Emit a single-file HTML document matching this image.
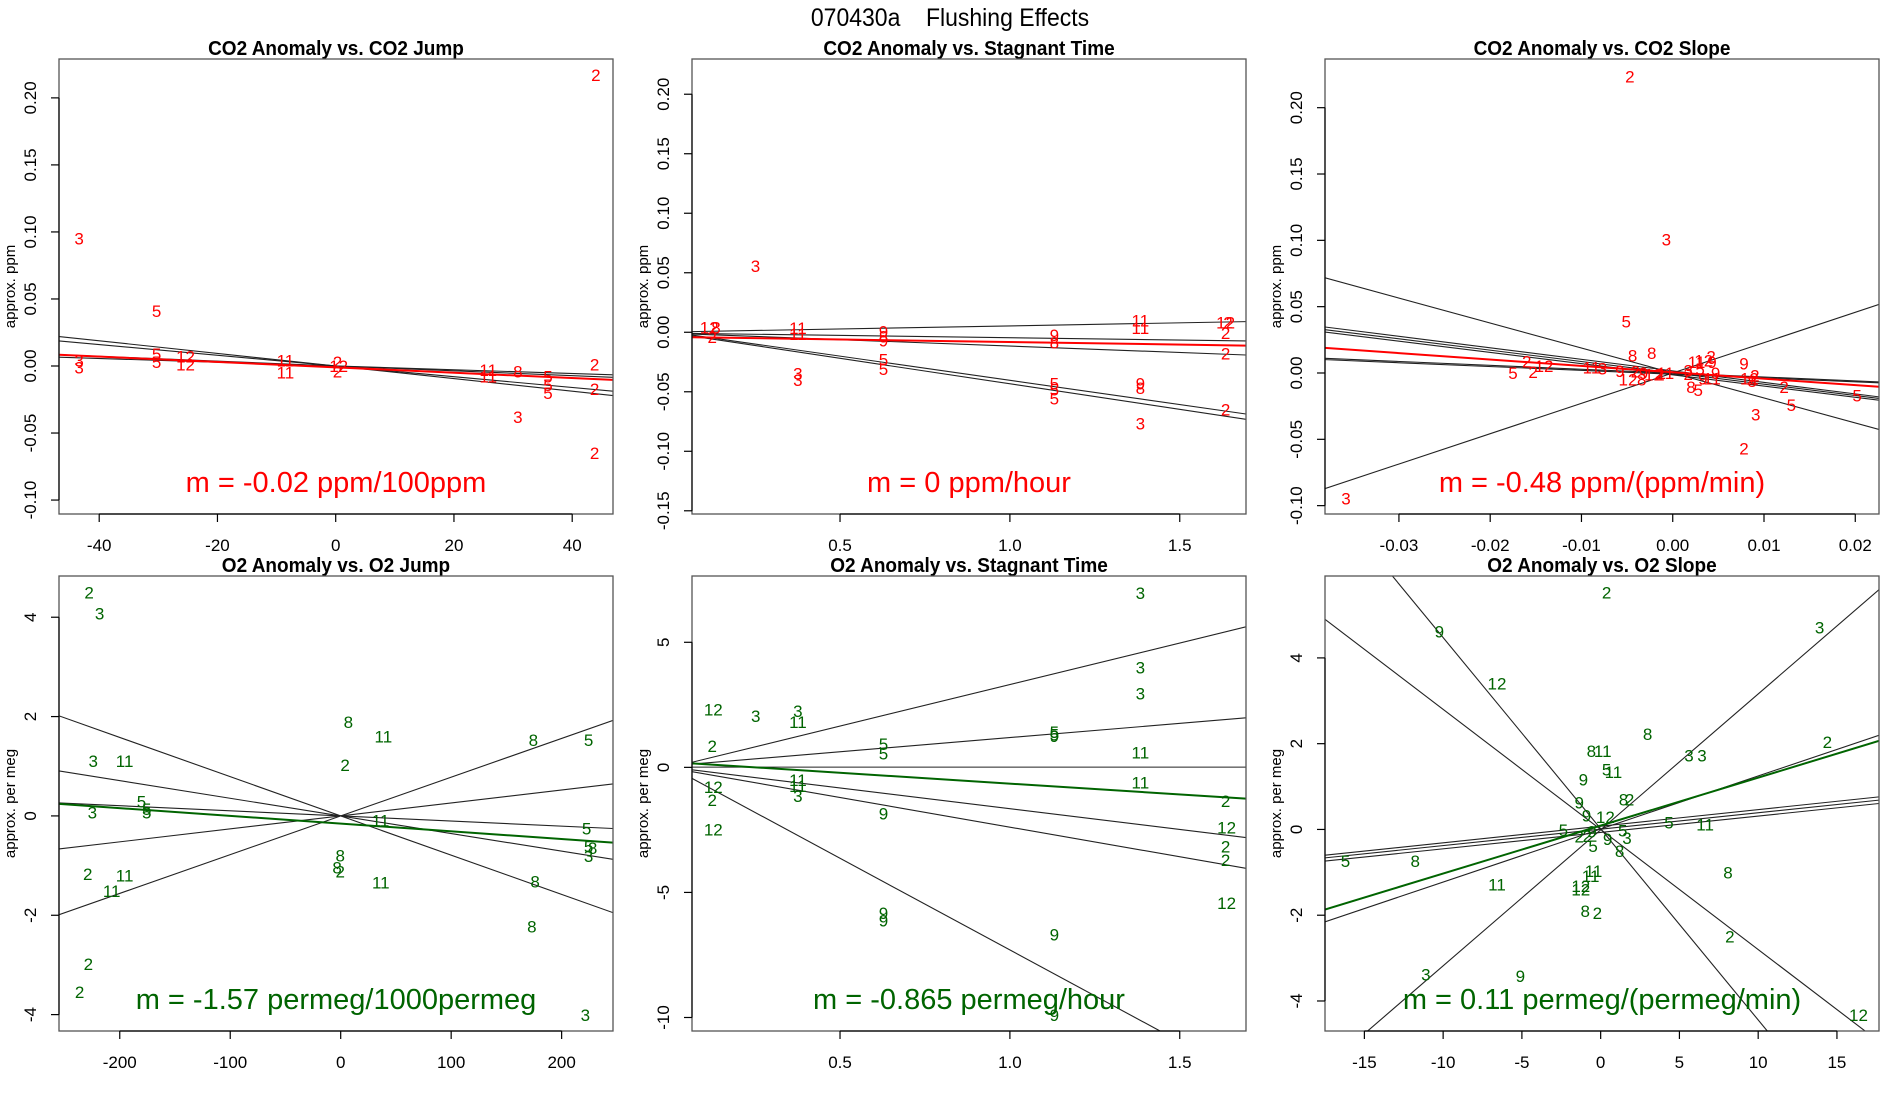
<!DOCTYPE html>
<html><head><meta charset="utf-8"><title>070430a Flushing Effects</title>
<style>
html,body{margin:0;padding:0;background:#fff;width:1900px;height:1100px;overflow:hidden;}
svg{display:block;font-family:"Liberation Sans",Arial,sans-serif;}
</style></head>
<body>
<svg id="fig" width="1900" height="1100" viewBox="0 0 1900 1100" xmlns="http://www.w3.org/2000/svg">
<rect width="1900" height="1100" fill="#fff"/>
<text x="950" y="26" font-size="25" text-anchor="middle" fill="#000" transform="translate(950 0) scale(0.92 1) translate(-950 0)" xml:space="preserve">070430a    Flushing Effects</text>
</svg>
<script>
// ===== Panel 1: CO2 Anomaly vs. CO2 Jump =====
const p1X = [44,-43.4,-30.3,-43.4,-43.4,-30.3,-30.3,-25.4,-25.4,-8.5,-8.5,0.3,0.5,0.3,25.8,25.8,30.8,30.8,35.9,35.9,35.9,43.8,43.8,43.8];
const p1Y = [0.217,0.095,0.041,0.004,-0.001,0.009,0.003,0.007,0.001,0.004,-0.005,0.003,0.0,-0.004,-0.003,-0.008,-0.004,-0.038,-0.008,-0.014,-0.020,0.001,-0.017,-0.065];
const p1Lab = ["2","3","5","3","3","5","5","12","12","11","11","2","12","2","11","11","8","3","5","5","5","2","2","2"];
const p1LineInt = [0,0,0,0];
const p1LineSlope = [-0.00047,-0.0004,-0.00018,-0.00014];
const p1Fit = [-0.001,-0.0002];
const p1XTicks = [-40,-20,0,20,40];
const p1YTicks = [-0.10,-0.05,0.00,0.05,0.10,0.15,0.20];
const p1YTickLabels = ["-0.10","-0.05","0.00","0.05","0.10","0.15","0.20"];

// ===== Panel 2: CO2 Anomaly vs. Stagnant Time =====
const p2X = [0.251,0.115,0.135,0.124,0.376,0.376,0.376,0.376,0.628,0.628,0.628,0.628,0.628,1.131,1.131,1.131,1.131,1.131,1.384,1.384,1.384,1.384,1.384,1.635,1.642,1.635,1.635,1.635];
const p2Y = [0.0557,0.004,0.004,-0.004,0.0037,-0.0013,-0.0345,-0.040,0.0005,-0.0037,-0.007,-0.023,-0.031,-0.0023,-0.0084,-0.043,-0.048,-0.0555,0.0097,0.0034,-0.043,-0.047,-0.0765,0.008,0.008,-0.0007,-0.018,-0.065];
const p2Lab = ["3","12","8","2","11","11","3","3","9","8","9","5","5","9","8","5","5","5","11","11","9","8","3","12","2","2","2","2"];
const p2LineInt = [0.0002,-0.0007,-0.0008,0.0003,-0.0004];
const p2LineSlope = [0.00515,-0.0039,-0.0108,-0.0407,-0.0429];
const p2Fit = [-0.0039,-0.0043];
const p2XTicks = [0.5,1.0,1.5];
const p2XTickLabels = ["0.5","1.0","1.5"];
const p2YTicks = [-0.15,-0.10,-0.05,0.00,0.05,0.10,0.15,0.20];
const p2YTickLabels = ["-0.15","-0.10","-0.05","0.00","0.05","0.10","0.15","0.20"];

// ===== Panel 3: CO2 Anomaly vs. CO2 Slope =====
const p3X = [-0.0047,-0.0007,-0.0051,-0.0044,-0.0023,-0.016,-0.0153,-0.0141,-0.0175,-0.0089,-0.0077,-0.0058,-0.0049,-0.0034,-0.0041,-0.0032,-0.0021,-0.0014,-0.0008,0.0017,0.0026,0.0034,0.0042,0.0043,0.003,0.0047,0.0043,0.0033,0.0028,0.002,0.0017,0.0078,0.0084,0.0087,0.009,0.0122,0.0202,0.013,0.0091,0.0078,-0.0358];
const p3Y = [0.2236,0.1008,0.039,0.0133,0.015,0.0088,0.0008,0.0053,0.0,0.004,0.0035,0.0015,-0.005,-0.005,0.001,0.0,-0.001,-0.001,0.0,0.002,0.0083,0.0095,0.0126,0.0083,0.003,0.0,-0.004,-0.004,-0.013,-0.0107,-0.0008,0.0071,-0.004,-0.006,-0.002,-0.0105,-0.0168,-0.0243,-0.0314,-0.057,-0.0947];
const p3Lab = ["2","3","5","8","8","2","2","12","5","11","3","9","12","8","2","9","12","2","11","3","11","12","2","9","5","9","11","9","5","8","2","9","12","8","2","2","5","5","3","2","3"];
const p3LineInt = [0,0,0.0016,0.0001,-0.0014,-0.0001,-0.0009];
const p3LineSlope = [-1.883,2.288,-0.868,-0.855,-0.847,-0.293,-0.288];
const p3Fit = [0.0005,-0.483];
const p3XTicks = [-0.03,-0.02,-0.01,0.00,0.01,0.02];
const p3XTickLabels = ["-0.03","-0.02","-0.01","0.00","0.01","0.02"];
const p3YTicks = [-0.10,-0.05,0.00,0.05,0.10,0.15,0.20];
const p3YTickLabels = ["-0.10","-0.05","0.00","0.05","0.10","0.15","0.20"];

// ===== Panel 4: O2 Anomaly vs. O2 Jump =====
const p4X = [-227.7,-218.2,-224,-195.6,-224.8,-180.3,-175.6,-175.6,-229,-195.6,-207.3,-228.4,-236.4,6.9,38.6,4.0,36,-0.4,-3.3,-0.4,36.3,174.4,224.4,222.6,224.4,228,224.4,176,173,221.5];
const p4Y = [4.50,4.08,1.11,1.11,0.07,0.29,0.14,0.07,-1.17,-1.20,-1.51,-2.98,-3.54,1.89,1.60,1.03,-0.09,-0.80,-1.04,-1.12,-1.34,1.53,1.53,-0.25,-0.62,-0.65,-0.81,-1.32,-2.23,-4.01];
const p4Lab = ["2","3","3","11","3","5","5","5","2","11","11","2","2","8","11","2","11","8","8","2","11","8","5","5","5","8","3","8","8","3"];
const p4LineInt = [0,0,0,0,0];
const p4LineSlope = [-0.0079,-0.003548,-0.001027,0.00261,0.0078];
const p4Fit = [-0.154,-0.001553];
const p4XTicks = [-200,-100,0,100,200];
const p4YTicks = [-4,-2,0,2,4];

// ===== Panel 5: O2 Anomaly vs. Stagnant Time =====
const p5X = [1.384,1.384,1.384,0.127,0.252,0.376,0.376,0.124,0.628,0.628,1.131,1.131,1.131,1.384,1.384,0.376,0.376,0.376,0.127,0.124,0.127,0.628,0.628,0.628,1.131,1.131,1.635,1.638,1.635,1.635,1.638];
const p5Y = [6.98,3.99,2.96,2.32,2.06,2.25,1.82,0.85,0.93,0.56,1.42,1.32,1.25,0.60,-0.61,-0.51,-0.75,-1.15,-0.79,-1.31,-2.48,-1.84,-5.83,-6.13,-6.68,-9.91,-1.35,-2.40,-3.17,-3.70,-5.43];
const p5Lab = ["3","3","3","12","3","3","11","2","5","5","5","5","9","11","11","11","11","3","12","2","12","9","9","9","9","9","2","12","2","2","12"];
const p5LineInt = [-0.01,0.057,0.009,0.007,-0.02,0.03];
const p5LineSlope = [3.32,1.134,0,-1.66,-2.37,-7.33];
const p5Fit = [0.216,-0.866];
const p5XTicks = [0.5,1.0,1.5];
const p5XTickLabels = ["0.5","1.0","1.5"];
const p5YTicks = [-10,-5,0,5];

// ===== Panel 6: O2 Anomaly vs. O2 Slope =====
const p6X = [0.38,-10.24,13.9,-6.58,2.98,14.39,-0.59,0.13,5.61,6.43,0.38,0.81,-1.10,-1.36,1.45,1.84,-0.90,0.3,-2.37,4.34,6.63,-1.36,-0.85,-0.55,1.4,1.67,0.44,-0.48,1.2,-16.2,-11.77,-6.58,-1.26,-1.26,-0.45,-0.64,8.08,-0.98,-0.21,8.2,-11.1,-5.10,16.37];
const p6Y = [5.52,4.62,4.71,3.40,2.22,2.04,1.83,1.83,1.73,1.73,1.40,1.34,1.17,0.63,0.70,0.70,0.32,0.29,-0.01,0.16,0.12,-0.17,-0.15,-0.05,-0.02,-0.20,-0.22,-0.39,-0.50,-0.73,-0.74,-1.28,-1.32,-1.40,-0.97,-1.09,-1.00,-1.90,-1.95,-2.50,-3.38,-3.42,-4.33];
const p6Lab = ["2","9","3","12","8","2","8","11","3","3","5","11","9","9","8","2","9","12","5","5","11","2","2","9","5","3","9","5","8","5","8","11","12","12","11","11","8","8","2","2","3","9","12"];
const p6LineInt = [0.016,0,-0.01,0.01,0.076,0.007,-0.07];
const p6LineSlope = [-0.4458,-0.280,0.317,0.1237,0.0387,0.0383,0.0382];
const p6Fit = [0.09,0.1118];
const p6XTicks = [-15,-10,-5,0,5,10,15];
const p6YTicks = [-4,-2,0,2,4];

const NS = "http://www.w3.org/2000/svg";
const svg = document.getElementById("fig");

function mk(tag, attrs, parent) {
  const e = document.createElementNS(NS, tag);
  for (const k in attrs) e.setAttribute(k, attrs[k]);
  (parent || svg).appendChild(e);
  return e;
}

function panel(cfg) {
  const g = mk("g", {});
  
  
  const L = cfg.left, T = cfg.top, W = 554, H = 455, R = L + W, B = T + H;
  const sx = v => L + (v - cfg.xmin) / (cfg.xmax - cfg.xmin) * W;
  const sy = v => B - (v - cfg.ymin) / (cfg.ymax - cfg.ymin) * H;

  const title = mk("text", {x: L + W / 2, y: T - 4, "font-size": 20, "font-weight": "bold", "text-anchor": "middle", fill: "#000",
    transform: `translate(${L + W / 2} 0) scale(0.95 1) translate(${-(L + W / 2)} 0)`}, g);
  title.textContent = cfg.title;
  
  

  const cid = "clip-" + cfg.name;
  const cp = mk("clipPath", {id: cid}, g);
  mk("rect", {x: L, y: T, width: W, height: H}, cp);
  const plot = mk("g", {"clip-path": `url(#${cid})`}, g);

  for (let i = 0; i < cfg.lInt.length; i++) {
    const a = cfg.lInt[i], b = cfg.lSlope[i];
    const ln = mk("line", {x1: sx(cfg.xmin), y1: sy(a + b * cfg.xmin), x2: sx(cfg.xmax), y2: sy(a + b * cfg.xmax), stroke: "#222", "stroke-width": 1.1}, plot);
    
    
  }
  const fa = cfg.fit[0], fb = cfg.fit[1];
  const fl = mk("line", {x1: sx(cfg.xmin), y1: sy(fa + fb * cfg.xmin), x2: sx(cfg.xmax), y2: sy(fa + fb * cfg.xmax), stroke: cfg.color, "stroke-width": 2}, plot);
  
  

  for (let i = 0; i < cfg.px.length; i++) {
    const t = mk("text", {x: sx(cfg.px[i]), y: sy(cfg.py[i]) + 6, "font-size": 17, "text-anchor": "middle", fill: cfg.color}, plot);
    t.textContent = cfg.lab[i];
    
    
  }

  const box = mk("rect", {x: L, y: T, width: W, height: H, fill: "none", stroke: "#555", "stroke-width": 1.3}, g);
  
  

  const xt = cfg.xTicks;
  const xa = mk("line", {x1: sx(xt[0]), y1: B, x2: sx(xt[xt.length - 1]), y2: B, stroke: "#000", "stroke-width": 1.2}, g);
  
  
  for (let i = 0; i < xt.length; i++) {
    mk("line", {x1: sx(xt[i]), y1: B, x2: sx(xt[i]), y2: B + 8, stroke: "#000", "stroke-width": 1.2}, g);
    const lt = mk("text", {x: sx(xt[i]), y: B + 37, "font-size": 17, "text-anchor": "middle", fill: "#000"}, g);
    lt.textContent = cfg.xLabels ? cfg.xLabels[i] : String(xt[i]);
    
    
  }
  const yt = cfg.yTicks;
  const ya = mk("line", {x1: L, y1: sy(yt[0]), x2: L, y2: sy(yt[yt.length - 1]), stroke: "#000", "stroke-width": 1.2}, g);
  
  
  for (let i = 0; i < yt.length; i++) {
    mk("line", {x1: L - 8, y1: sy(yt[i]), x2: L, y2: sy(yt[i]), stroke: "#000", "stroke-width": 1.2}, g);
    const yx = L - 23, yy = sy(yt[i]);
    const lt = mk("text", {x: yx, y: yy, "font-size": 17, "text-anchor": "middle", fill: "#000", transform: `rotate(-90 ${yx} ${yy})`}, g);
    lt.textContent = cfg.yLabels ? cfg.yLabels[i] : String(yt[i]);
    
    
  }
  const ax = L - 44, ay = T + H / 2;
  const ylab = mk("text", {x: ax, y: ay, "font-size": 15, "text-anchor": "middle", fill: "#000", transform: `rotate(-90 ${ax} ${ay})`}, g);
  ylab.textContent = cfg.yTitle;
  
  

  const mx = L + W / 2, my = B - 22;
  const ann = mk("text", {x: mx, y: my, "font-size": 29, "text-anchor": "middle", fill: cfg.color}, g);
  ann.textContent = cfg.ann;
  
  
}

const RED = "#ff0000", GREEN = "#006400";
panel({name: "panel-co2-jump", title: "CO2 Anomaly vs. CO2 Jump", left: 59, top: 59, xmin: -46.8, xmax: 46.9, ymin: -0.1104, ymax: 0.229,
  px: p1X, py: p1Y, lab: p1Lab, lInt: p1LineInt, lSlope: p1LineSlope, fit: p1Fit, color: RED,
  xTicks: p1XTicks, yTicks: p1YTicks, yLabels: p1YTickLabels, yTitle: "approx. ppm", ann: "m = -0.02 ppm/100ppm"});
panel({name: "panel-co2-stagnant", title: "CO2 Anomaly vs. Stagnant Time", left: 692, top: 59, xmin: 0.0643, xmax: 1.695, ymin: -0.1527, ymax: 0.2296,
  px: p2X, py: p2Y, lab: p2Lab, lInt: p2LineInt, lSlope: p2LineSlope, fit: p2Fit, color: RED,
  xTicks: p2XTicks, xLabels: p2XTickLabels, yTicks: p2YTicks, yLabels: p2YTickLabels, yTitle: "approx. ppm", ann: "m = 0 ppm/hour"});
panel({name: "panel-co2-slope", title: "CO2 Anomaly vs. CO2 Slope", left: 1325, top: 59, xmin: -0.0381, xmax: 0.0226, ymin: -0.1063, ymax: 0.2367,
  px: p3X, py: p3Y, lab: p3Lab, lInt: p3LineInt, lSlope: p3LineSlope, fit: p3Fit, color: RED,
  xTicks: p3XTicks, xLabels: p3XTickLabels, yTicks: p3YTicks, yLabels: p3YTickLabels, yTitle: "approx. ppm", ann: "m = -0.48 ppm/(ppm/min)"});
panel({name: "panel-o2-jump", title: "O2 Anomaly vs. O2 Jump", left: 59, top: 576, xmin: -255, xmax: 246.5, ymin: -4.33, ymax: 4.83,
  px: p4X, py: p4Y, lab: p4Lab, lInt: p4LineInt, lSlope: p4LineSlope, fit: p4Fit, color: GREEN,
  xTicks: p4XTicks, yTicks: p4YTicks, yTitle: "approx. per meg", ann: "m = -1.57 permeg/1000permeg"});
panel({name: "panel-o2-stagnant", title: "O2 Anomaly vs. Stagnant Time", left: 692, top: 576, xmin: 0.0643, xmax: 1.695, ymin: -10.54, ymax: 7.65,
  px: p5X, py: p5Y, lab: p5Lab, lInt: p5LineInt, lSlope: p5LineSlope, fit: p5Fit, color: GREEN,
  xTicks: p5XTicks, xLabels: p5XTickLabels, yTicks: p5YTicks, yTitle: "approx. per meg", ann: "m = -0.865 permeg/hour"});
panel({name: "panel-o2-slope", title: "O2 Anomaly vs. O2 Slope", left: 1325, top: 576, xmin: -17.5, xmax: 17.67, ymin: -4.70, ymax: 5.91,
  px: p6X, py: p6Y, lab: p6Lab, lInt: p6LineInt, lSlope: p6LineSlope, fit: p6Fit, color: GREEN,
  xTicks: p6XTicks, yTicks: p6YTicks, yTitle: "approx. per meg", ann: "m = 0.11 permeg/(permeg/min)"});
</script>
</body></html>
